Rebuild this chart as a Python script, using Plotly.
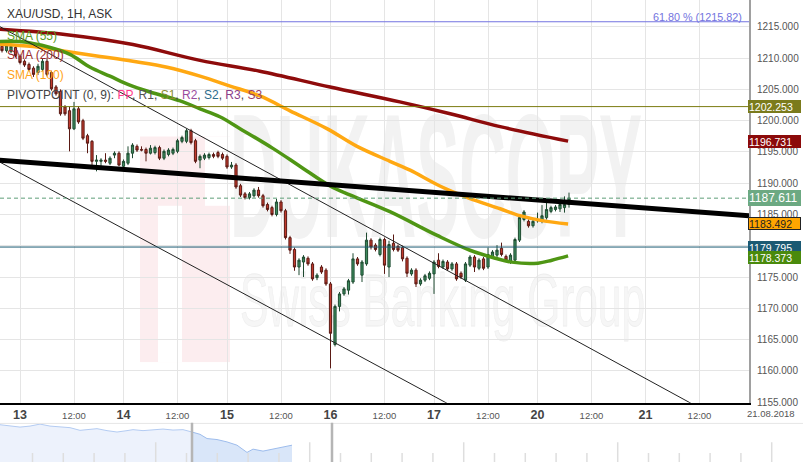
import base64
import plotly.graph_objects as go

# ---------------- data ----------------
# hourly bar slots (trading hours, 13 Aug 00:00 = 0)
slots = list(range(-4, 123))
opens = [1211.9, 1211.2, 1211.1, 1211.7, 1210.3, 1209.5, 1209.0, 1208.4, 1207.7, 1208.2,
         1209.5, 1207.7, 1205.4, 1204.7, 1202.2, 1201.6, 1198.7, 1201.9, 1200.0, 1197.6,
         1196.7, 1193.5, 1193.5, 1193.7, 1193.2, 1194.5, 1194.8, 1192.7, 1193.2, 1194.8,
         1195.9, 1195.4, 1195.4, 1194.8, 1194.9, 1195.7, 1194.0, 1194.6, 1194.8, 1195.1,
         1196.7, 1196.7, 1198.4, 1196.8, 1193.7, 1194.0, 1194.1, 1194.6, 1194.9, 1194.6,
         1194.3, 1192.6, 1192.9, 1189.6, 1188.3, 1187.7, 1188.0, 1188.9, 1188.0, 1186.6,
         1186.1, 1185.0, 1187.0, 1185.6, 1181.3, 1179.4, 1176.6, 1177.4, 1178.0, 1177.1,
         1174.9, 1176.6, 1176.1, 1173.9, 1164.2, 1170.3, 1172.3, 1172.9, 1174.2, 1177.9,
         1175.3, 1177.1, 1180.9, 1180.1, 1178.6, 1181.0, 1176.6, 1180.4, 1179.9, 1179.7,
         1178.0, 1175.5, 1176.1, 1173.9, 1174.5, 1174.8, 1175.5, 1177.7, 1176.6, 1177.4,
         1176.3, 1177.1, 1175.6, 1174.5, 1176.9, 1178.2, 1176.4, 1177.9, 1176.6, 1178.2,
         1178.5, 1179.6, 1178.3, 1177.4, 1177.7, 1180.9, 1184.2, 1183.9, 1183.2, 1184.0,
         1183.9, 1184.5, 1185.5, 1185.8, 1185.9, 1186.1, 1186.6]
highs = [1212.2, 1212.4, 1212.3, 1212.0, 1210.6, 1209.8, 1209.3, 1208.7, 1209.1, 1209.9,
         1210.1, 1208.0, 1205.7, 1205.0, 1202.5, 1202.2, 1203.0, 1202.3, 1200.3, 1197.9,
         1196.9, 1194.5, 1194.0, 1194.8, 1194.3, 1195.1, 1195.1, 1193.8, 1195.9, 1196.4,
         1196.2, 1195.9, 1195.7, 1196.1, 1196.0, 1196.0, 1195.4, 1195.6, 1195.7, 1197.1,
         1197.6, 1198.7, 1198.7, 1197.1, 1194.6, 1194.8, 1194.9, 1194.9, 1195.2, 1194.9,
         1194.6, 1193.4, 1193.2, 1189.9, 1188.6, 1188.6, 1189.2, 1189.4, 1188.3, 1186.9,
         1186.4, 1187.5, 1187.3, 1185.9, 1181.6, 1179.7, 1178.0, 1178.5, 1178.3, 1177.4,
         1175.6, 1176.9, 1176.4, 1174.2, 1170.6, 1172.6, 1173.4, 1174.7, 1178.8, 1178.2,
         1177.7, 1182.1, 1181.2, 1180.4, 1181.3, 1181.3, 1180.8, 1181.8, 1180.2, 1180.0,
         1178.3, 1176.4, 1176.4, 1174.8, 1175.5, 1175.9, 1177.7, 1178.8, 1177.8, 1177.7,
         1177.4, 1177.4, 1175.9, 1177.4, 1178.5, 1178.5, 1178.0, 1178.2, 1179.7, 1179.3,
         1180.1, 1180.5, 1178.6, 1178.8, 1181.3, 1184.8, 1185.7, 1184.2, 1184.2, 1185.3,
         1186.5, 1187.0, 1186.4, 1186.5, 1186.9, 1187.9, 1188.5]
lows = [1210.9, 1210.9, 1210.8, 1210.1, 1209.0, 1208.6, 1207.9, 1207.0, 1207.3, 1207.9,
        1207.1, 1204.8, 1204.0, 1200.8, 1200.8, 1195.1, 1198.5, 1199.5, 1196.9, 1194.8,
        1192.7, 1191.9, 1192.7, 1193.2, 1192.9, 1194.0, 1192.7, 1192.4, 1192.9, 1194.0,
        1195.0, 1195.1, 1193.5, 1194.6, 1194.6, 1193.7, 1193.7, 1194.3, 1194.5, 1194.8,
        1196.4, 1196.4, 1196.2, 1193.2, 1192.4, 1193.7, 1193.8, 1194.0, 1194.0, 1193.7,
        1192.3, 1192.3, 1189.1, 1187.8, 1187.4, 1187.4, 1187.7, 1187.7, 1186.1, 1185.5,
        1184.7, 1184.7, 1185.3, 1181.0, 1178.7, 1176.0, 1175.3, 1175.0, 1176.8, 1174.4,
        1174.5, 1175.5, 1173.6, 1160.4, 1163.9, 1169.5, 1172.0, 1172.2, 1173.9, 1176.8,
        1174.2, 1176.8, 1179.4, 1179.1, 1178.3, 1175.5, 1175.0, 1179.1, 1179.0, 1177.5,
        1175.0, 1175.2, 1173.4, 1173.6, 1174.2, 1174.5, 1172.3, 1176.4, 1176.3, 1176.0,
        1176.0, 1174.4, 1174.7, 1174.2, 1176.6, 1175.8, 1176.1, 1176.1, 1176.3, 1177.9,
        1178.2, 1178.3, 1177.4, 1177.1, 1177.4, 1180.6, 1183.9, 1182.9, 1182.9, 1183.7,
        1183.6, 1184.2, 1185.2, 1185.5, 1185.4, 1185.3, 1186.1]
closes = [1211.2, 1212.0, 1211.9, 1210.4, 1209.3, 1208.9, 1208.2, 1207.4, 1208.7, 1209.5,
          1207.4, 1205.1, 1204.3, 1201.1, 1201.1, 1198.7, 1201.9, 1199.8, 1197.2, 1196.4,
          1193.5, 1193.7, 1193.7, 1193.5, 1194.0, 1194.8, 1192.9, 1193.5, 1194.8, 1196.1,
          1195.3, 1195.3, 1194.8, 1195.6, 1195.7, 1194.0, 1195.1, 1195.3, 1195.4, 1196.8,
          1197.3, 1198.4, 1196.5, 1193.5, 1194.3, 1194.5, 1194.6, 1194.3, 1194.3, 1194.0,
          1192.6, 1192.9, 1189.4, 1188.1, 1187.7, 1188.3, 1188.9, 1188.0, 1186.4, 1185.8,
          1185.0, 1187.0, 1185.6, 1181.3, 1179.3, 1176.6, 1177.7, 1178.2, 1177.1, 1174.7,
          1175.3, 1175.8, 1173.9, 1166.0, 1170.3, 1172.3, 1173.1, 1174.4, 1177.9, 1177.1,
          1177.4, 1180.9, 1179.8, 1179.4, 1181.0, 1176.9, 1180.2, 1179.4, 1179.3, 1177.9,
          1175.6, 1176.1, 1173.9, 1174.5, 1175.2, 1175.6, 1177.4, 1176.7, 1177.5, 1176.3,
          1177.1, 1174.7, 1175.0, 1177.1, 1178.2, 1176.6, 1177.7, 1176.4, 1178.6, 1179.0,
          1179.3, 1178.6, 1177.7, 1178.5, 1181.0, 1184.5, 1185.4, 1183.2, 1183.9, 1184.1,
          1184.8, 1185.8, 1186.1, 1186.2, 1186.6, 1186.6, 1187.61]

# moving averages
sma55_x = [-5, 0, 6.7, 11.1, 15.6, 20, 24.4, 28.9, 35.6, 40, 44.4, 48.9, 56.2, 62.2, 68.9,
           73.3, 82.2, 92.7, 100, 105.6, 109.3, 115.1, 118.2, 121.8]
sma55_y = [1212.66, 1212.66, 1211.71, 1210.60, 1208.54, 1207.12, 1205.69, 1204.59, 1203.16,
           1201.90, 1200.63, 1198.73, 1195.57, 1192.72, 1189.56, 1188.13, 1185.45, 1181.65,
           1179.28, 1178.01, 1177.38, 1177.22, 1177.69, 1178.373]
sma100_x = [-5, 2.9, 10.4, 17.8, 25.1, 32.7, 40, 46.7, 53.3, 60, 68.2, 74.9, 82.2, 86.7,
            93.3, 99.6, 106.7, 111.1, 116, 121.8]
sma100_y = [1212.25, 1211.86, 1211.07, 1210.28, 1209.49, 1208.54, 1207.12, 1205.54, 1203.95,
            1201.58, 1198.73, 1195.89, 1193.51, 1192.09, 1189.56, 1187.66, 1185.92, 1184.81,
            1184.02, 1183.492]
sma200_x = [-5, 10.4, 25.1, 40, 53.3, 68.9, 84.4, 95.6, 106.7, 121.8]
sma200_y = [1214.65, 1213.76, 1212.18, 1209.65, 1207.91, 1205.38, 1203.01, 1201.11, 1199.05,
            1196.731]

# drawn trend lines (two end points each)
trend_x = [-10, 170]
trend_y = [1193.97, 1184.38]
chan_up_x = [-10, 155]
chan_up_y = [1217.21, 1152.5]
chan_lo_x = [-10, 110]
chan_lo_y = [1195.52, 1148.95]

# horizontal levels
fib_level = 1215.82
level_olive = 1202.253
level_teal = 1179.795
last_price = 1187.611

# x ticks
tick_slots = [0, 12, 23, 35, 46, 58, 69, 81, 92, 104, 115, 127, 139, 151]
tick_labels = ['13', '12:00', '14', '12:00', '15', '12:00', '16', '12:00',
               '17', '12:00', '20', '12:00', '21', '12:00']
y_ticks = [1155, 1160, 1165, 1170, 1175, 1180, 1185, 1190, 1195, 1200, 1205, 1210, 1215]

# navigator overview series
nav_x = [0, 10, 20, 30, 40, 50, 60, 70, 80, 90, 97, 107, 117, 127, 133, 143, 153, 163,
         173, 183, 192]
nav_y = [37.7, 36.3, 35.3, 36.3, 38.3, 36.3, 35.3, 34.7, 32, 32.7, 33.7, 31.7, 30.3, 31.7,
         32.7, 31.7, 32.7, 33.3, 32.3, 32.7, 30.3]
nav2_x = [192, 200, 207, 217, 227, 237, 247, 253, 263, 273, 283, 292]
nav2_y = [30.3, 28, 23.7, 22.7, 20.3, 17, 9.7, 13, 11, 13, 15.3, 17]

# right-hand value labels: (price, text, bg, text colour, size, yshift)
value_tags = [
    (level_olive, '1202.253', '#7b7b1c', 'white', 10.5, 0),
    (1196.731, '1196.731', '#8b0a0a', 'white', 10.5, 0),
    (last_price, '1187.611', '#6ca982', 'white', 12, 0),
    (1183.492, '1183.492', '#ffa500', '#222', 10.5, 0),
    (level_teal, '1179.795', '#1b5a73', 'white', 10.5, 0),
    (1178.373, '1178.373', '#4a8a0c', 'white', 10.5, -1.5),
]

# ---------------- figure ----------------
W, H = 803, 467
PLOT_R = 749
PLOT_B = 407
FONT = 'Arial, Liberation Sans, sans-serif'

# watermark (logo + text) as an svg image below the grid
svg = f'''<svg xmlns="http://www.w3.org/2000/svg" width="{W}" height="{H}" viewBox="0 0 {W} {H}">
<rect x="140" y="138" width="90" height="228" fill="#fcedef"/>
<rect x="158" y="208" width="24" height="158" fill="#ffffff"/>
<rect x="205" y="138" width="25" height="70" fill="#ffffff"/>
<text x="230" y="240" font-family="Liberation Sans, Arial, sans-serif" font-weight="bold" font-size="178"
 fill="#f2f2f2" textLength="412" lengthAdjust="spacingAndGlyphs">DUKASCOPY</text>
<text x="240" y="330" font-family="Liberation Sans, Arial, sans-serif" font-size="74"
 fill="#f6f6f6" stroke="#eeeeee" stroke-width="0.8" textLength="405" lengthAdjust="spacingAndGlyphs">Swiss Banking Group</text>
</svg>'''
svg_uri = 'data:image/svg+xml;base64,' + base64.b64encode(svg.encode()).decode()

fig = go.Figure()

fig.add_trace(go.Candlestick(
    x=slots, open=opens, high=highs, low=lows, close=closes,
    increasing=dict(fillcolor='#3d8b5e', line=dict(color='#1e4a30', width=1)),
    decreasing=dict(fillcolor='#c23a2d', line=dict(color='#5a1a14', width=1)),
    whiskerwidth=0, showlegend=False, hoverinfo='skip'))

fig.add_trace(go.Scatter(x=sma200_x, y=sma200_y, mode='lines',
                         line=dict(color='#8e0b0b', width=3.5, shape='spline'),
                         showlegend=False, hoverinfo='skip'))
fig.add_trace(go.Scatter(x=sma100_x, y=sma100_y, mode='lines',
                         line=dict(color='#ffa812', width=3.5, shape='spline'),
                         showlegend=False, hoverinfo='skip'))
fig.add_trace(go.Scatter(x=sma55_x, y=sma55_y, mode='lines',
                         line=dict(color='#4f9614', width=3.5, shape='spline'),
                         showlegend=False, hoverinfo='skip'))

fig.add_trace(go.Scatter(x=chan_up_x, y=chan_up_y, mode='lines',
                         line=dict(color='#222', width=1), showlegend=False, hoverinfo='skip'))
fig.add_trace(go.Scatter(x=chan_lo_x, y=chan_lo_y, mode='lines',
                         line=dict(color='#222', width=1), showlegend=False, hoverinfo='skip'))
fig.add_trace(go.Scatter(x=trend_x, y=trend_y, mode='lines',
                         line=dict(color='#000000', width=5), showlegend=False, hoverinfo='skip'))

# navigator
fig.add_trace(go.Scatter(x=nav_x, y=nav_y, mode='lines', fill='tozeroy',
                         fillcolor='#edf2fc', line=dict(color='#b3cbf2', width=1),
                         xaxis='x2', yaxis='y2', showlegend=False, hoverinfo='skip'))
fig.add_trace(go.Scatter(x=nav2_x, y=nav2_y, mode='lines', fill='tozeroy',
                         fillcolor='#d9e6f9', line=dict(color='#9dbcec', width=1),
                         xaxis='x2', yaxis='y2', showlegend=False, hoverinfo='skip'))

shapes = []
# horizontal levels
for lvl, col, dash in [(fib_level, '#7373e0', 'solid'), (level_olive, '#7b7b10', 'solid'),
                       (level_teal, '#1b5a73', 'solid'), (last_price, '#5f9e78', '4px,3px')]:
    shapes.append(dict(type='line', xref='x domain', yref='y', x0=0, x1=1, y0=lvl, y1=lvl,
                       line=dict(color=col, width=1, dash=dash), layer='above'))
# navigator decorations
shapes.append(dict(type='line', xref='paper', yref='paper', x0=0, x1=1,
                   y0=1 - 428 / H, y1=1 - 428 / H, line=dict(color='#e6e6e6', width=1)))
step = 30.8
for i in range(25):
    xp = 32.5 + i * step
    tall = (i % 5 == 4)
    shapes.append(dict(type='line', xref='x2', yref='y2', x0=xp, x1=xp, y0=0,
                       y1=20 if tall else 9, line=dict(color='#dedede', width=1.5)))
for xp in (192, 332):
    shapes.append(dict(type='line', xref='x2', yref='y2', x0=xp, x1=xp, y0=0, y1=40,
                       line=dict(color='#b5b5b5', width=2.5)))

annotations = []
def ann_px(x, y, text, size, color, xanchor='left'):
    annotations.append(dict(xref='paper', yref='paper', x=x / W, y=1 - y / H, text=text,
                            showarrow=False, xanchor=xanchor, yanchor='middle',
                            font=dict(family=FONT, size=size, color=color)))

ann_px(5, 14, 'XAU/USD, 1H, ASK', 12, '#333333')
ann_px(5, 36, 'SMA (55)', 12, '#5a9a22')
ann_px(5, 56, 'SMA (200)', 12, '#9b2c2c')
ann_px(5, 76, 'SMA (100)', 12, '#ffa41a')
ann_px(5, 96, "PIVOTPOINT (0, 9): <span style='color:#ff3d8b'>PP</span>, "
              "<span style='color:#555'>R1</span>, <span style='color:#8b8b2e'>S1</span>, "
              "<span style='color:#9a4e9e'>R2</span>, <span style='color:#2d6c8c'>S2</span>, "
              "<span style='color:#8b3f8b'>R3</span>, <span style='color:#9a3d62'>S3</span>",
       12, '#444444')
ann_px(744, 17, '61.80 % (1215.82)', 10.8, '#7373e0', xanchor='right')
ann_px(771, 418, '21.08.2018', 9.5, '#555555', xanchor='center')

for price, txt, bg, fc, size, ysh in value_tags:
    annotations.append(dict(xref='paper', yref='y', x=748 / W, y=price, text=txt,
                            showarrow=False, xanchor='left', yanchor='middle', yshift=ysh,
                            width=51, height=(14 if size > 11 else 11), align='left',
                            bgcolor=bg, bordercolor='#222' if bg == '#ffa500' else bg,
                            borderwidth=1, borderpad=0,
                            font=dict(family=FONT, size=size, color=fc)))

ticktext = []
for t in tick_labels:
    if ':' in t:
        ticktext.append(t)
    else:
        ticktext.append(f"<b><span style='font-size:12.5px;color:#444'>{t}</span></b>")

y_lo = 1219.30 - 0.1582 * PLOT_B
fig.update_layout(
    width=W, height=H,
    margin=dict(l=0, r=0, t=0, b=0),
    paper_bgcolor='white', plot_bgcolor='rgba(0,0,0,0)',
    font=dict(family=FONT),
    hovermode=False,
    xaxis=dict(domain=[0, PLOT_R / W], range=[-20 / 4.5, (PLOT_R - 20) / 4.5],
               tickmode='array', tickvals=tick_slots, ticktext=ticktext,
               tickfont=dict(size=9.5, color='#555'), showgrid=True, gridcolor='#e5e5e5',
               gridwidth=1, zeroline=False, showline=True, linecolor='#000', linewidth=1.5,
               ticks='outside', ticklen=3, tickcolor='rgba(0,0,0,0)',
               rangeslider=dict(visible=False), fixedrange=True),
    yaxis=dict(domain=[(H - PLOT_B) / H, 1], range=[y_lo, 1219.30], side='right',
               tickmode='array', tickvals=y_ticks, tickformat='.3f',
               tickfont=dict(size=10, color='#555'), showgrid=True, gridcolor='#e5e5e5',
               zeroline=False, showline=True, linecolor='#a0a0a0', linewidth=2,
               ticks='outside', ticklen=4, tickcolor='rgba(0,0,0,0)', fixedrange=True),
    xaxis2=dict(domain=[0, 1], range=[0, W], anchor='y2', visible=False, fixedrange=True),
    yaxis2=dict(domain=[0, 40 / H], range=[0, 40], anchor='x2', visible=False, fixedrange=True),
    shapes=shapes,
    annotations=annotations,
    images=[dict(source=svg_uri, xref='paper', yref='paper', x=0, y=1, sizex=1, sizey=1,
                 xanchor='left', yanchor='top', sizing='stretch', layer='below')],
)

fig.write_html('out.html', config={'displayModeBar': False},
               post_script="document.body.style.margin='0';document.body.style.overflow='hidden';")
